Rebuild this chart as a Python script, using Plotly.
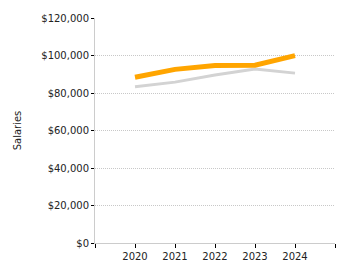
import plotly.graph_objects as go

years = [2020, 2021, 2022, 2023, 2024]
series_orange = [88400, 92600, 94700, 94800, 99900]
series_gray = [83300, 85800, 89600, 92800, 90600]
y_ticks = [0, 20000, 40000, 60000, 80000, 100000, 120000]
x_ticks = [2019, 2020, 2021, 2022, 2023, 2024, 2025]
x_labels = ["", "2020", "2021", "2022", "2023", "2024", ""]

fig = go.Figure()
fig.add_trace(go.Scatter(x=years, y=series_gray, mode="lines",
                         line=dict(color="#d3d3d3", width=3), showlegend=False))
fig.add_trace(go.Scatter(x=years, y=series_orange, mode="lines",
                         line=dict(color="#FFA500", width=5), showlegend=False))

font = dict(family="DejaVu Sans", size=10, color="#222")
fig.update_layout(
    width=350, height=275,
    margin=dict(l=95, r=15, t=15, b=32),
    paper_bgcolor="white", plot_bgcolor="white",
    font=font,
    xaxis=dict(range=[2019, 2025], tickvals=x_ticks, ticktext=x_labels,
               showgrid=False, showline=True, linecolor="#cccccc", linewidth=1,
               ticks="outside", ticklen=4, tickcolor="#000", tickwidth=1,
               zeroline=False, fixedrange=True),
    yaxis=dict(range=[0, 120000], tickvals=y_ticks, tickformat="$,",
               showgrid=True, gridcolor="#c8c8c8", griddash="1px,1px", gridwidth=1,
               showline=True, linecolor="#cccccc", linewidth=1,
               ticks="outside", ticklen=3, tickcolor="#000", tickwidth=1,
               zeroline=False, fixedrange=True,
               title=dict(text="Salaries", standoff=17, font=dict(size=10))),
)
fig.write_html("out.html")
